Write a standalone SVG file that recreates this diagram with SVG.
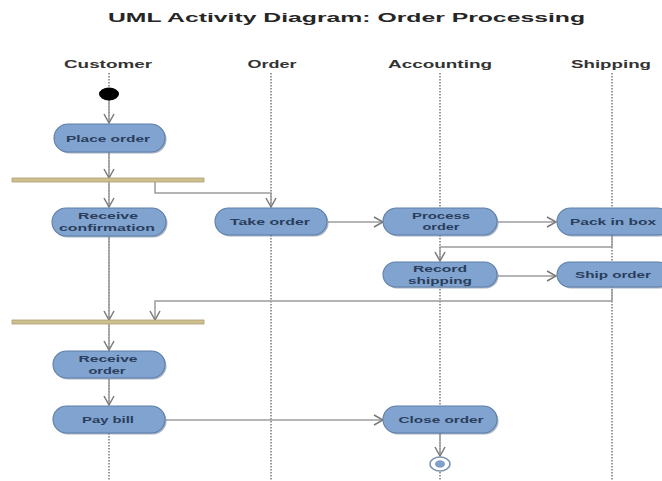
<svg xmlns="http://www.w3.org/2000/svg" width="662" height="481" viewBox="0 0 662 481">
  <style>
    text { font-family: "Liberation Sans", Arial, sans-serif; font-weight: bold; text-anchor: middle; }
    .title { font-size: 13px; fill: #262626; }
    .lane-label { font-size: 10.5px; fill: #333333; }
    .lane { stroke: #6f6f6f; stroke-width: 1.4; stroke-dasharray: 1.5 1.5; fill: none; }
    .action { fill: #80a3cf; stroke: #5f7fa8; stroke-width: 1.1; }
    .shadow { fill: #5f7697; opacity: 0.55; }
    .label { font-size: 9.6px; fill: #2a3d5c; }
    .bar { fill: #cdbf8e; stroke: #ae9f70; stroke-width: 0.8; }
    .flow { stroke: #9c9c9c; stroke-width: 1.5; fill: none; marker-end: url(#open-arrow); }
  </style>
  <defs>
    <marker id="open-arrow" markerWidth="12" markerHeight="12" refX="10" refY="6" orient="auto" markerUnits="userSpaceOnUse">
      <path d="M1,1 L10,6 L1,11" fill="none" stroke="#7a7a7a" stroke-width="1.5"/>
    </marker>
  </defs>

  <rect width="662" height="481" fill="#ffffff"/>

  <text class="title" x="346.5" y="22" textLength="477" lengthAdjust="spacingAndGlyphs">UML Activity Diagram: Order Processing</text>

  <!-- swimlanes -->
  <g id="lanes">
    <text class="lane-label" x="108" y="68" textLength="88" lengthAdjust="spacingAndGlyphs">Customer</text>
    <text class="lane-label" x="272" y="68" textLength="49" lengthAdjust="spacingAndGlyphs">Order</text>
    <text class="lane-label" x="440" y="68" textLength="104" lengthAdjust="spacingAndGlyphs">Accounting</text>
    <text class="lane-label" x="611" y="68" textLength="80" lengthAdjust="spacingAndGlyphs">Shipping</text>
    <line class="lane" x1="109" y1="73" x2="109" y2="481"/>
    <line class="lane" x1="271" y1="73" x2="271" y2="481"/>
    <line class="lane" x1="440" y1="73" x2="440" y2="481"/>
    <line class="lane" x1="612" y1="73" x2="612" y2="481"/>
  </g>

  <!-- connectors -->
  <g id="connectors">
    <line class="flow" x1="109" y1="100" x2="109" y2="123"/>
    <line class="flow" x1="109" y1="152" x2="109" y2="178"/>
    <line class="flow" x1="109" y1="182" x2="109" y2="207"/>
    <polyline class="flow" points="155,182 155,193 271,193 271,207"/>
    <line class="flow" x1="328" y1="222" x2="383" y2="222"/>
    <line class="flow" x1="498" y1="222" x2="556" y2="222"/>
    <polyline class="flow" points="612,236 612,247 440,247 440,261"/>
    <line class="flow" x1="498" y1="276" x2="556" y2="276"/>
    <polyline class="flow" points="612,290 612,301 155,301 155,320"/>
    <line class="flow" x1="109" y1="237" x2="109" y2="320"/>
    <line class="flow" x1="109" y1="324" x2="109" y2="350"/>
    <line class="flow" x1="109" y1="379" x2="109" y2="405"/>
    <line class="flow" x1="166" y1="420" x2="383" y2="420"/>
    <line class="flow" x1="440" y1="434" x2="440" y2="456"/>
  </g>

  <!-- initial node -->
  <g id="start">
    <ellipse cx="109" cy="94" rx="10" ry="6.5" fill="#000000"/>
  </g>

  <g id="place-order">
    <rect class="shadow" x="55.5" y="125.5" width="111" height="28" rx="14"/>
    <rect class="action" x="54" y="124" width="111" height="28" rx="14"/>
    <text class="label" x="108" y="141.5" textLength="84" lengthAdjust="spacingAndGlyphs">Place order</text>
  </g>

  <g id="fork">
    <rect class="bar" x="12" y="178" width="192" height="4"/>
  </g>

  <g id="receive-confirmation">
    <rect class="shadow" x="53.5" y="209.5" width="114" height="28" rx="14"/>
    <rect class="action" x="52" y="208" width="114" height="28" rx="14"/>
    <text class="label" x="108" y="219" textLength="60" lengthAdjust="spacingAndGlyphs">Receive</text>
    <text class="label" x="107" y="231" textLength="96" lengthAdjust="spacingAndGlyphs">confirmation</text>
  </g>

  <g id="take-order">
    <rect class="shadow" x="216.5" y="209.5" width="112" height="27" rx="13.5"/>
    <rect class="action" x="215" y="208" width="112" height="27" rx="13.5"/>
    <text class="label" x="270" y="225" textLength="80" lengthAdjust="spacingAndGlyphs">Take order</text>
  </g>

  <g id="process-order">
    <rect class="shadow" x="384.5" y="209.5" width="114" height="27" rx="13.5"/>
    <rect class="action" x="383" y="208" width="114" height="27" rx="13.5"/>
    <text class="label" x="441" y="218.5" textLength="58" lengthAdjust="spacingAndGlyphs">Process</text>
    <text class="label" x="441" y="230" textLength="37" lengthAdjust="spacingAndGlyphs">order</text>
  </g>

  <g id="pack-in-box">
    <rect class="shadow" x="558.5" y="209.5" width="114" height="27" rx="13.5"/>
    <rect class="action" x="557" y="208" width="114" height="27" rx="13.5"/>
    <text class="label" x="613" y="225" textLength="86" lengthAdjust="spacingAndGlyphs">Pack in box</text>
  </g>

  <g id="record-shipping">
    <rect class="shadow" x="384.5" y="263.5" width="114" height="25" rx="12.5"/>
    <rect class="action" x="383" y="262" width="114" height="25" rx="12.5"/>
    <text class="label" x="440" y="272" textLength="54" lengthAdjust="spacingAndGlyphs">Record</text>
    <text class="label" x="440" y="283.5" textLength="64" lengthAdjust="spacingAndGlyphs">shipping</text>
  </g>

  <g id="ship-order">
    <rect class="shadow" x="558.5" y="263.5" width="114" height="25" rx="12.5"/>
    <rect class="action" x="557" y="262" width="114" height="25" rx="12.5"/>
    <text class="label" x="613" y="278" textLength="76" lengthAdjust="spacingAndGlyphs">Ship order</text>
  </g>

  <g id="join">
    <rect class="bar" x="12" y="320" width="192" height="4"/>
  </g>

  <g id="receive-order">
    <rect class="shadow" x="54.5" y="352.5" width="112" height="27" rx="13.5"/>
    <rect class="action" x="53" y="351" width="112" height="27" rx="13.5"/>
    <text class="label" x="108" y="362" textLength="59" lengthAdjust="spacingAndGlyphs">Receive</text>
    <text class="label" x="107" y="373.5" textLength="37" lengthAdjust="spacingAndGlyphs">order</text>
  </g>

  <g id="pay-bill">
    <rect class="shadow" x="54.5" y="407.5" width="112" height="27" rx="13.5"/>
    <rect class="action" x="53" y="406" width="112" height="27" rx="13.5"/>
    <text class="label" x="108" y="423" textLength="52" lengthAdjust="spacingAndGlyphs">Pay bill</text>
  </g>

  <g id="close-order">
    <rect class="shadow" x="384.5" y="407.5" width="114" height="27" rx="13.5"/>
    <rect class="action" x="383" y="406" width="114" height="27" rx="13.5"/>
    <text class="label" x="441" y="423" textLength="85" lengthAdjust="spacingAndGlyphs">Close order</text>
  </g>

  <!-- final node -->
  <g id="end">
    <ellipse cx="440" cy="464" rx="10" ry="7" fill="#ffffff" stroke="#8193ad" stroke-width="1.5"/>
    <ellipse cx="440" cy="464" rx="5" ry="3.8" fill="#7fa0c8"/>
  </g>
</svg>
